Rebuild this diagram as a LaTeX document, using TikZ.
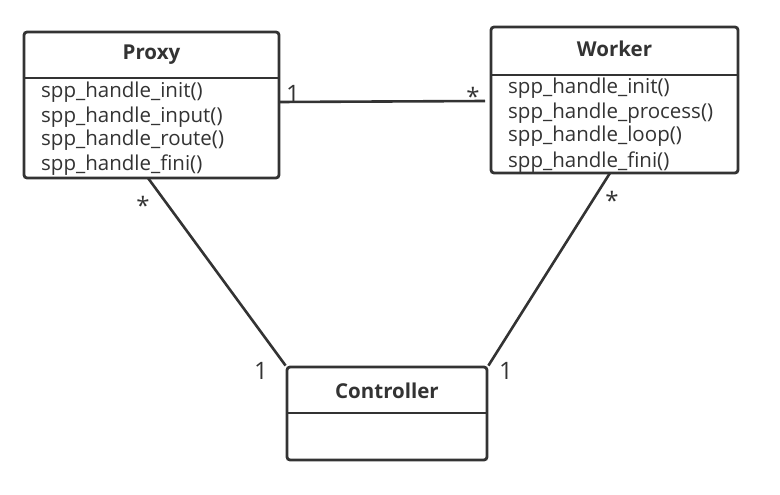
\documentclass[tikz,border=0pt]{standalone}
\usepackage{fontspec}
\setmainfont{Open Sans}
\definecolor{umlgray}{HTML}{333333}
\tikzset{
  classbox/.style={draw=umlgray, line width=2.8pt, rounded corners=3pt, fill=white},
  divider/.style={draw=umlgray, line width=2.8pt},
  assoc/.style={draw=umlgray, line width=2.6pt},
  classname/.style={text=umlgray, font=\fontsize{20.5}{24}\selectfont\bfseries},
  method/.style={text=umlgray, anchor=base west, inner sep=0pt, font=\fontsize{20.5}{24}\selectfont},
  mult/.style={text=umlgray, font=\fontsize{24}{28}\selectfont}
}
\begin{document}
\begin{tikzpicture}[x=1pt,y=-1pt]
\useasboundingbox (0,0) rectangle (780,495);
% Drawing class boxes
% Box 1: Proxy
\node[classbox, minimum width=255pt, minimum height=146pt] (proxy) at (151.5,105) {};
\draw[divider] (24,78) -- (279,78);
\node[classname] (proxyname) at (151.5,55) {Proxy};
\node[method] (pinit) at (41,98) {spp\_handle\_init()};
\node[method] (pinput) at (41,122) {spp\_handle\_input()};
\node[method] (proute) at (41,146) {spp\_handle\_route()};
\node[method] (pfini) at (41,171) {spp\_handle\_fini()};
% Box 2: Worker
\node[classbox, minimum width=247pt, minimum height=146pt] (worker) at (614.5,100) {};
\draw[divider] (491,75) -- (738,75);
\node[classname] (workername) at (614.5,49) {Worker};
\node[method] (winit) at (508,94) {spp\_handle\_init()};
\node[method] (wprocess) at (508,118) {spp\_handle\_process()};
\node[method] (wloop) at (508,142) {spp\_handle\_loop()};
\node[method] (wfini) at (508,167) {spp\_handle\_fini()};
% Box 3: Controller
\node[classbox, minimum width=200pt, minimum height=93pt] (controller) at (387,413.5) {};
\draw[divider] (287,413) -- (487,413);
\node[classname] (controllername) at (387,391) {Controller};
% Done with boxes; drawing associations
\coordinate (pw) at (279,102);
\coordinate (wp) at (485,101);
\coordinate (pc) at (148,178);
\coordinate (wc) at (610,173);
\draw[assoc] (pw) -- (wp);
\draw[assoc] (pc) -- (controller.north west);
\draw[assoc] (wc) -- (controller.north east);
% Done with associations; drawing multiplicities
\node[mult] (m1) at (293,94) {1};
\node[mult] (m2) at (473,96) {*};
\node[mult] (m3) at (143,205) {*};
\node[mult] (m4) at (261,371) {1};
\node[mult] (m5) at (612,200) {*};
\node[mult] (m6) at (506,371) {1};
% Done with multiplicities
\end{tikzpicture}
\end{document}
